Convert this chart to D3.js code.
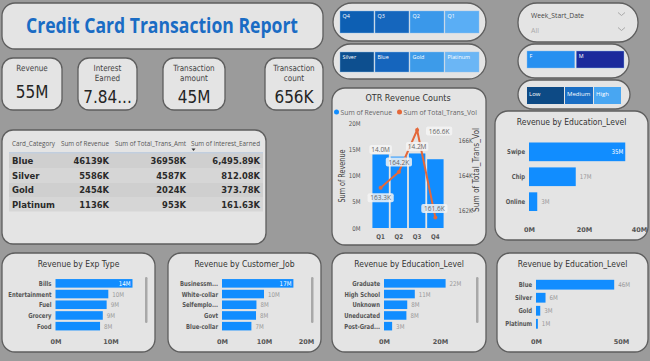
<!DOCTYPE html>
<html>
<head>
<meta charset="utf-8">
<script src="https://cdn.jsdelivr.net/npm/d3@7"></script>
<style>
body{margin:0;background:#9b9b9b;overflow:hidden}
svg{display:block}
</style>
</head>
<body>
<div id="dash"></div>
<script>
// ---- donnees ----
const kpiLabels = [["Revenue"], ["Interest", "Earned"], ["Transaction", "amount"], ["Transaction", "count"]];
const kpiValues = ["55M", "7.84...", "45M", "656K"];

const tableHeaders = ["Card_Category", "Sum of Revenue", "Sum of Total_Trans_Amt", "Sum of Interest_Earned"];
const cardCats = ["Blue", "Silver", "Gold", "Platinum"];
const cardRevenue = ["46139K", "5586K", "2454K", "1136K"];
const cardTransAmt = ["36958K", "4587K", "2024K", "953K"];
const cardInterest = ["6,495.89K", "812.08K", "373.78K", "161.63K"];

const quarters = ["Q1", "Q2", "Q3", "Q4"];
const qtrRevenue = [14.0, 13.6, 14.2, 13.1];      // M
const qtrTransVol = [163.3, 164.2, 166.6, 161.6]; // K
const qtrRevTicks = [0, 5, 10, 15, 20];
const qtrVolTicks = [162, 164, 166];

const chipCats = ["Swipe", "Chip", "Online"];
const chipRevenue = [35, 17, 3];
const chipTicks = [0, 20, 40];

const expCats = ["Bills", "Entertainment", "Fuel", "Grocery", "Food"];
const expRevenue = [14.0, 9.6, 9.3, 8.6, 8.1];
const expTicks = [0, 10];

const jobCats = ["Businessm...", "White-collar", "Selfemplo...", "Govt", "Blue-collar"];
const jobRevenue = [17.0, 10.0, 8.2, 8.1, 7.0];
const jobTicks = [0, 10, 20];

const eduCats = ["Graduate", "High School", "Unknown", "Uneducated", "Post-Grad..."];
const eduRevenue = [22.0, 11.0, 8.3, 8.0, 2.9];
const eduTicks = [0, 20];

const cardRevM = [46, 5.6, 2.5, 1.1];
const cardTicks = [0, 50];

const qtrSlicer = ["Q4", "Q3", "Q2", "Q1"];
const cardSlicer = ["Silver", "Blue", "Gold", "Platinum"];
const genderSlicer = ["F", "M"];
const incomeSlicer = ["Low", "Medium", "High"];

// ---- dessin ----
const W = 650, H = 361;
const DIN = "'DejaVu Sans',sans-serif";
const SEG = "'Open Sans','Noto Sans',sans-serif";
const BLEU = "#118dff";

const svg = d3.select("#dash").append("svg").attr("width", W).attr("height", H);
svg.append("rect").attr("width", W).attr("height", H).attr("fill", "#9b9b9b");

function panneau(x, y, w, h, r){ // cadre arrondi gris clair
    svg.append("rect").attr("x", x).attr("y", y).attr("width", w).attr("height", h)
        .attr("rx", r).attr("ry", r)
        .attr("fill", "#e4e4e4").attr("stroke", "#5e5e5e").attr("stroke-width", 1.3);
}

// texte ; sx < 1 resserre horizontalement (imite la police DIN etroite)
function texte(x, y, t, taille, couleur, opts){
    opts = opts || {};
    let sx = opts.sx || 1;
    let e = svg.append("text").attr("x", 0).attr("y", 0).text(t)
        .attr("transform", `translate(${x},${y}) scale(${sx},1)`)
        .attr("font-size", taille).attr("fill", couleur)
        .attr("font-family", opts.font || DIN)
        .attr("font-weight", opts.bold ? "bold" : "normal")
        .attr("text-anchor", opts.anchor || "start");
    return e;
}

// titre
panneau(2, 3, 321, 46, 13);
texte(162, 33, "Credit Card Transaction Report", 21, "#1a6cc4", {anchor: "middle", bold: true, font: SEG})
    .attr("textLength", 272).attr("lengthAdjust", "spacingAndGlyphs");

// cartes KPI
const kpiX = [2, 78, 163, 265];
const kpiW = [60, 59, 62, 58];
kpiLabels.forEach((lab, i) => {
    panneau(kpiX[i], 58, kpiW[i], 52, 11);
    let cx = kpiX[i] + kpiW[i] / 2;
    lab.forEach((l, j) => texte(cx, 71 + j * 10, l, 8.5, "#444", {anchor: "middle", sx: 0.85}));
    texte(cx, lab.length == 1 ? 98 : 103, kpiValues[i], 18, "#252525", {anchor: "middle", sx: 0.85});
});

// tableau
panneau(2, 130, 264, 114, 11);
const colX = [12, 109, 186, 260];
const colW = [43, 48, 71, 69];
tableHeaders.forEach((h, i) => {
    svg.append("text").attr("x", i == 0 ? colX[0] : colX[i] - colW[i]).attr("y", 146).text(h)
        .attr("font-family", SEG).attr("font-size", 6.5).attr("fill", "#555")
        .attr("textLength", colW[i]).attr("lengthAdjust", "spacingAndGlyphs");
});
svg.append("path").attr("d", "M191.5,148.5 l4,0 l-2,2.5z").attr("fill", "#333");
svg.append("line").attr("x1", 9).attr("x2", 263).attr("y1", 153).attr("y2", 153)
    .attr("stroke", "#9fb8d8").attr("stroke-width", 1);
const lignes = d3.scaleBand().domain(cardCats).range([153.5, 211.5]);
cardCats.forEach((c, i) => {
    svg.append("rect").attr("x", 9).attr("y", lignes(c)).attr("width", 254).attr("height", lignes.bandwidth())
        .attr("fill", i % 2 == 0 ? "#cfcfcf" : "#d6d6d6");
    let y = lignes(c) + lignes.bandwidth() / 2 + 3.5;
    texte(12, y, c, 9.5, "#2a2a2a", {bold: true, sx: 0.9});
    texte(colX[1], y, cardRevenue[i], 9.5, "#2a2a2a", {bold: true, anchor: "end", sx: 0.88});
    texte(colX[2], y, cardTransAmt[i], 9.5, "#2a2a2a", {bold: true, anchor: "end", sx: 0.88});
    texte(colX[3], y, cardInterest[i], 9.5, "#2a2a2a", {bold: true, anchor: "end", sx: 0.88});
});

// slicers (boutons)
function slicer(x, y, w, h, px, py, pw, ph, noms, couleurs){
    panneau(x, y, w, h, h / 2);
    let sx = d3.scaleBand().domain(noms).range([px, px + pw]).paddingInner(0.03);
    noms.forEach((n, i) => {
        svg.append("rect").attr("x", sx(n)).attr("y", py).attr("width", sx.bandwidth()).attr("height", ph)
            .attr("fill", couleurs[i]).attr("stroke", "#8fc0ef").attr("stroke-width", 0.4);
        texte(sx(n) + 2.5, py + 7, n, 6, "#ffffff", {font: SEG, sx: 0.9});
    });
}
slicer(333, 3, 153, 38, 340, 11, 139, 22, qtrSlicer, ["#0d5fb3", "#1566bd", "#3a98ea", "#5aaef5"]);
slicer(333, 44, 153, 35, 340, 52, 139, 20, cardSlicer, ["#0d4f8f", "#1565bd", "#3d9be9", "#6bb6f5"]);
slicer(518, 44, 111, 34, 527, 51, 97, 17, genderSlicer, ["#2790f0", "#1b2a9c"]);
// Low/Medium/High : largeurs inegales
panneau(518, 80, 112, 29, 14.5);
const incomeW = [38, 29, 28];
let ix = 527;
incomeSlicer.forEach((n, i) => {
    svg.append("rect").attr("x", ix).attr("y", 87).attr("width", incomeW[i] - 1).attr("height", 17)
        .attr("fill", ["#0d4a85", "#1a6ec4", "#48a6f2"][i]);
    texte(ix + 2, 96, n, 6, "#ffffff", {font: SEG});
    ix += incomeW[i];
});

// filtre Week_Start_Date
panneau(518, 3, 120, 39, 19);
texte(531, 18, "Week_Start_Date", 7.5, "#444", {font: SEG, sx: 0.9});
texte(531, 33, "All", 7, "#aaa", {font: SEG});
[14, 29].forEach(y => {
    svg.append("path").attr("d", `M618,${y - 1.5} l3.5,3 l3.5,-3`).attr("fill", "none")
        .attr("stroke", "#999").attr("stroke-width", 0.8);
});

// OTR Revenue Counts
panneau(332, 88, 154, 157, 13);
texte(408, 101, "OTR Revenue Counts", 9.5, "#333", {anchor: "middle", sx: 0.85});
svg.append("circle").attr("cx", 336.5).attr("cy", 112).attr("r", 2.5).attr("fill", BLEU);
texte(340.5, 114.5, "Sum of Revenue", 6.8, "#666", {font: SEG});
svg.append("circle").attr("cx", 399.5).attr("cy", 112).attr("r", 2.5).attr("fill", "#e4683a");
texte(403.5, 114.5, "Sum of Total_Trans_Vol", 6.8, "#666", {font: SEG});

const qx = d3.scaleBand().domain(quarters).range([371.5, 444.5]).paddingInner(0.1).paddingOuter(0.05);
const qyRev = d3.scaleLinear().domain([0, 20]).range([228, 123]);
const qyVol = d3.scaleLinear().domain([161, 167]).range([228, 123]);

svg.selectAll(".qbar").data(qtrRevenue).enter().append("rect")
    .attr("x", (d, i) => qx(quarters[i])).attr("width", qx.bandwidth())
    .attr("y", d => qyRev(d)).attr("height", d => qyRev(0) - qyRev(d)).attr("fill", BLEU);

const axeG = svg.append("g").attr("transform", "translate(363,0)")
    .call(d3.axisLeft(qyRev).tickValues(qtrRevTicks).tickFormat(d => d + "M").tickSize(0));
const axeD = svg.append("g").attr("transform", "translate(456,0)")
    .call(d3.axisRight(qyVol).tickValues(qtrVolTicks).tickFormat(d => d + "K").tickSize(0));
const axeX = svg.append("g").attr("transform", "translate(0,231)")
    .call(d3.axisBottom(qx).tickSize(0));
[axeG, axeD, axeX].forEach(g => {
    g.select(".domain").remove();
    g.selectAll("text").attr("font-family", DIN).attr("font-size", 6.5).attr("fill", "#555")
        .attr("transform", "scale(0.85,1)");
});
axeX.selectAll("text").attr("font-weight", "bold");

svg.append("text").attr("transform", "translate(345,176) rotate(-90)").attr("text-anchor", "middle")
    .attr("font-family", DIN).attr("font-size", 8).attr("fill", "#444").text("Sum of Revenue")
    .attr("textLength", 53).attr("lengthAdjust", "spacingAndGlyphs");
svg.append("text").attr("transform", "translate(479,170) rotate(-90)").attr("text-anchor", "middle")
    .attr("font-family", DIN).attr("font-size", 8).attr("fill", "#444").text("Sum of Total_Trans_Vol")
    .attr("textLength", 84).attr("lengthAdjust", "spacingAndGlyphs");

const ligne = d3.line().x((d, i) => qx(quarters[i]) + qx.bandwidth() / 2).y(d => qyVol(d));
svg.append("path").datum(qtrTransVol).attr("d", ligne).attr("fill", "none")
    .attr("stroke", "#e4683a").attr("stroke-width", 2);
svg.selectAll(".pt").data(qtrTransVol).enter().append("circle")
    .attr("cx", (d, i) => qx(quarters[i]) + qx.bandwidth() / 2).attr("cy", d => qyVol(d))
    .attr("r", 2).attr("fill", "#e4683a");

function etiquette(x, y, t){ // etiquette de donnee avec fond blanc
    let g = svg.append("g");
    g.append("text").attr("x", x).attr("y", y + 2.5).attr("text-anchor", "middle")
        .attr("font-family", SEG).attr("font-size", 6.5).attr("fill", "#666").text(t);
    let w = t.length * 3.7 + 4;
    g.insert("rect", "text").attr("x", x - w / 2).attr("y", y - 4.5).attr("width", w).attr("height", 9)
        .attr("rx", 2).attr("fill", "#f4f4f4").attr("opacity", 0.85);
}
const cx = q => qx(q) + qx.bandwidth() / 2;
etiquette(cx("Q1"), qyRev(qtrRevenue[0]) - 5, qtrRevenue[0].toFixed(1) + "M");
etiquette(cx("Q3"), qyRev(qtrRevenue[2]) - 7, qtrRevenue[2].toFixed(1) + "M");
etiquette(cx("Q1"), qyVol(qtrTransVol[0]) + 10, qtrTransVol[0].toFixed(1) + "K");
etiquette(cx("Q2"), qyVol(qtrTransVol[1]) - 10, qtrTransVol[1].toFixed(1) + "K");
etiquette(cx("Q3") + 22, qyVol(qtrTransVol[2]) + 1, qtrTransVol[2].toFixed(1) + "K");
etiquette(cx("Q4") - 1, qyVol(qtrTransVol[3]) - 9, qtrTransVol[3].toFixed(1) + "K");

// graphes a barres horizontales
function barresH(o){
    panneau(o.px, o.py, o.pw, o.ph, 13);
    texte(o.px + o.pw / 2, o.py + 14, o.titre, 9, "#333", {anchor: "middle", sx: 0.85});
    let x = d3.scaleLinear().domain([0, o.ticks[1]]).range([o.x0, o.x1]);
    let y = d3.scaleBand().domain(o.cats).range(o.yr).paddingInner(o.pin).paddingOuter(0.1);
    o.vals.forEach((v, i) => {
        let c = o.cats[i];
        svg.append("rect").attr("x", x(0)).attr("y", y(c)).attr("width", x(v) - x(0)).attr("height", y.bandwidth())
            .attr("fill", BLEU);
        let ym = y(c) + y.bandwidth() / 2 + 2.5;
        texte(x(0) - 4, ym, c, 6.8, "#555", {anchor: "end", bold: true, sx: 0.78});
        let lab = Math.round(v) + "M";
        if (i == 0 && o.dedans) texte(x(v) - 2, ym, lab, 6.5, "#fff", {anchor: "end", sx: 0.85});
        else texte(x(v) + 4, ym, lab, 6.5, "#999", {sx: 0.85});
    });
    let ax = svg.append("g").attr("transform", `translate(0,${o.ya})`)
        .call(d3.axisBottom(x).tickValues(o.ticks).tickFormat(d => d + "M").tickSize(0));
    ax.select(".domain").remove();
    ax.selectAll("text").attr("font-family", DIN).attr("font-size", 6.5).attr("fill", "#555").attr("font-weight", "bold");
    if (o.scroll) {
        svg.append("rect").attr("x", o.px + o.pw - 10).attr("y", 277).attr("width", 2.5).attr("height", 46)
            .attr("rx", 1.2).attr("fill", "#a8a8a8");
    }
}

barresH({px: 495, py: 111, pw: 153, ph: 129, titre: "Revenue by Education_Level",
    cats: chipCats, vals: chipRevenue, ticks: chipTicks, x0: 529, x1: 584,
    yr: [140, 213.5], pin: 0.25, ya: 224, dedans: true});
barresH({px: 2, py: 253, pw: 153, ph: 99, titre: "Revenue by Exp Type",
    cats: expCats, vals: expRevenue, ticks: expTicks, x0: 55.5, x1: 110.5,
    yr: [278, 331.5], pin: 0.2, ya: 336, dedans: true, scroll: true});
barresH({px: 168, py: 253, pw: 153, ph: 99, titre: "Revenue by Customer_Job",
    cats: jobCats, vals: jobRevenue, ticks: jobTicks, x0: 222, x1: 264,
    yr: [278, 331.5], pin: 0.2, ya: 336, dedans: true, scroll: true});
barresH({px: 332, py: 253, pw: 154, ph: 99, titre: "Revenue by Education_Level",
    cats: eduCats, vals: eduRevenue, ticks: eduTicks, x0: 384, x1: 440,
    yr: [278, 331.5], pin: 0.2, ya: 336, scroll: true});
barresH({px: 497, py: 253, pw: 151, ph: 99, titre: "Revenue by Education_Level",
    cats: cardCats, vals: cardRevM, ticks: cardTicks, x0: 536, x1: 621,
    yr: [278.5, 330], pin: 0.25, ya: 336});
</script>
</body>
</html>
